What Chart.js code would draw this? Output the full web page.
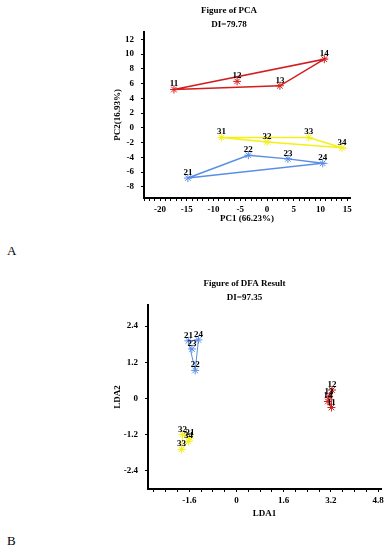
<!DOCTYPE html>
<html>
<head>
<meta charset="utf-8">
<script src="https://cdn.jsdelivr.net/npm/chart.js@4"></script>
<style>
  body { margin: 0; background: #fff; width: 389px; height: 550px; position: relative; overflow: hidden; }
  canvas { position: absolute; }
  .tag { position: absolute; font-family: "Liberation Serif", serif; font-size: 13px; color: #000; }
</style>
</head>
<body>
<canvas id="pca" width="270" height="230" style="left:108px; top:0px;"></canvas>
<div class="tag" style="left:7px; top:243px;">A</div>
<canvas id="dfa" width="290" height="254" style="left:108px; top:270px;"></canvas>
<div class="tag" style="left:7px; top:533px;">B</div>
<script>
// sample ids, first digit = group
const sampleIds = ["11", "12", "13", "14", "21", "22", "23", "24", "31", "32", "33", "34"];

// PCA scores
const pc1 = [-17.4, -5.6, 2.4, 10.7, -14.8, -3.5, 3.9, 10.4, -8.5, 0.0, 7.8, 14.0];
const pc2 = [5.2, 6.3, 5.7, 9.3, -6.8, -3.7, -4.2, -4.8, -1.3, -1.9, -1.3, -2.7];

// DFA scores
const lda1 = [3.22, 3.24, 3.14, 3.10, -1.63, -1.40, -1.51, -1.29, -1.58, -1.83, -1.86, -1.63];
const lda2 = [-0.30, 0.28, 0.06, -0.10, 1.91, 0.93, 1.64, 1.94, -1.31, -1.20, -1.69, -1.42];

// outline order of each group (closed back to start)
const pcaHulls = [["11", "14", "13"], ["21", "22", "23", "24"], ["31", "33", "34", "32"]];
const dfaHulls = [["12", "11", "14", "13"], ["21", "24", "22"], ["32", "31", "34", "33"]];

const groups = ["1", "2", "3"];
const groupColors = ["#d41c1c", "#5a8ee6", "#f4f014"];

const serif = "'Liberation Serif', 'Times New Roman', serif";

// draws the sample number above each star
const pointLabels = {
    id: "pointLabels",
    afterDatasetsDraw(chart) {
        const ctx = chart.ctx;
        ctx.save();
        ctx.font = "bold 9px " + serif;
        ctx.fillStyle = "#000";
        ctx.textAlign = "center";
        ctx.textBaseline = "alphabetic";
        chart.data.datasets.forEach((ds, i) => {
            if (!ds.pointNames) return;
            chart.getDatasetMeta(i).data.forEach((el, j) => {
                ctx.fillText(ds.pointNames[j], el.x, el.y - 3);
            });
        });
        ctx.restore();
    },
};

function buildDatasets(xs, ys, hulls, lineWidth) {
    const out = [];
    groups.forEach((g, gi) => {
        const ids = sampleIds.filter((id) => id[0] === g);
        const hull = hulls[gi].concat(hulls[gi][0]);
        out.push({
            data: hull.map((id) => {
                const k = sampleIds.indexOf(id);
                return { x: xs[k], y: ys[k] };
            }),
            showLine: true,
            borderColor: groupColors[gi],
            borderWidth: lineWidth,
            pointRadius: 0,
            fill: false,
        });
        out.push({
            data: ids.map((id) => {
                const k = sampleIds.indexOf(id);
                return { x: xs[k], y: ys[k] };
            }),
            pointNames: ids,
            pointStyle: "star",
            pointRadius: 4,
            borderColor: groupColors[gi],
            backgroundColor: groupColors[gi],
            borderWidth: 1,
        });
    });
    return out;
}

function onStep(step) {
    return (scale) => {
        scale.ticks = scale.ticks.filter(
            (t) => Math.abs(t.value / step - Math.round(t.value / step)) < 1e-6,
        );
    };
}

function labelEvery(step, digits) {
    return (v) => {
        if (Math.abs(v / step - Math.round(v / step)) > 1e-6) return "";
        if (Math.abs(v) < 1e-9) return "0";
        return digits ? v.toFixed(digits) : String(Math.round(v));
    };
}

function axis(opts) {
    return {
        type: "linear",
        min: opts.min,
        max: opts.max,
        afterBuildTicks: onStep(opts.step),
        afterFit: opts.fit,
        ticks: {
            stepSize: opts.step,
            includeBounds: false,
            maxTicksLimit: 200,
            autoSkip: false,
            maxRotation: 0,
            padding: opts.pad,
            color: "#000",
            font: { family: serif, weight: "bold", size: 9 },
            callback: labelEvery(opts.label, opts.digits),
        },
        grid: { drawOnChartArea: false, color: "#000", tickLength: 3, lineWidth: 1 },
        border: { display: true, color: "#000", width: 2 },
        title: {
            display: true,
            text: opts.title,
            color: "#000",
            font: { family: serif, weight: "bold", size: 9 },
            padding: opts.titlePad,
        },
    };
}

function baseOptions(title, pad, titlePad) {
    return {
        responsive: false,
        animation: false,
        layout: { padding: pad },
        plugins: {
            legend: { display: false },
            tooltip: { enabled: false },
            title: {
                display: true,
                text: title,
                color: "#000",
                font: { family: serif, weight: "bold", size: 9, lineHeight: 1.55 },
                padding: titlePad,
            },
        },
    };
}

const pcaOptions = baseOptions(
    ["Figure of PCA", "DI=79.78"],
    { left: 0, right: 28, top: 0, bottom: 0 },
    { top: 4, bottom: 0 },
);
pcaOptions.scales = {
    x: axis({
        min: -23, max: 15.5, step: 1, label: 5, digits: 0, pad: 3,
        title: "PC1 (66.23%)", titlePad: { top: 2, bottom: 6 },
        fit: (s) => { s.height = 32; },
    }),
    y: axis({
        min: -9.5, max: 13, step: 2, label: 2, digits: 0, pad: 7,
        title: "PC2(16.93%)", titlePad: { top: 4, bottom: 2 },
        fit: (s) => { s.width = 36; },
    }),
};

new Chart(document.getElementById("pca").getContext("2d"), {
    type: "scatter",
    data: { datasets: buildDatasets(pc1, pc2, pcaHulls, 1.5) },
    options: pcaOptions,
    plugins: [pointLabels],
});

const dfaOptions = baseOptions(
    ["Figure of DFA Result", "DI=97.35"],
    { left: 0, right: 17, top: 0, bottom: 0 },
    { top: 7, bottom: 0 },
);
dfaOptions.scales = {
    x: axis({
        min: -3, max: 4.9, step: 0.4, label: 1.6, digits: 1, pad: 3,
        title: "LDA1", titlePad: { top: 2, bottom: 5 },
        fit: (s) => { s.height = 35; },
    }),
    y: axis({
        min: -3, max: 3.1, step: 1.2, label: 1.2, digits: 1, pad: 7,
        title: "LDA2", titlePad: { top: 4, bottom: 2 },
        fit: (s) => { s.width = 40; },
    }),
};

new Chart(document.getElementById("dfa").getContext("2d"), {
    type: "scatter",
    data: { datasets: buildDatasets(lda1, lda2, dfaHulls, 1) },
    options: dfaOptions,
    plugins: [pointLabels],
});
</script>
</body>
</html>
